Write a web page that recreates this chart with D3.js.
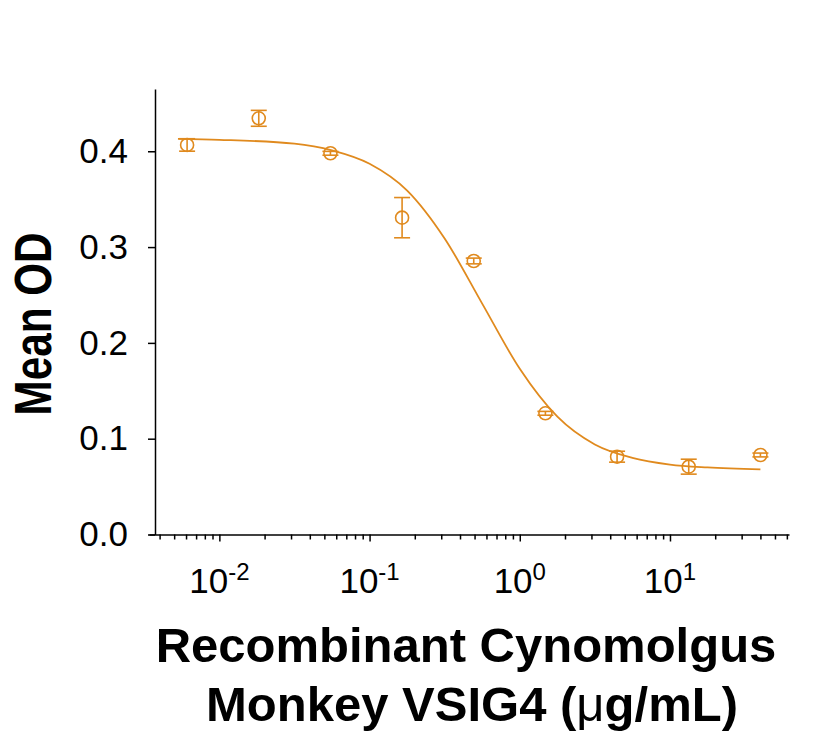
<!DOCTYPE html>
<html>
<head>
<meta charset="utf-8">
<script src="https://cdn.jsdelivr.net/npm/d3@7"></script>
<style>
  body { margin: 0; background: #fff; }
  svg text { font-family: Arial, "Liberation Sans", sans-serif; }
</style>
</head>
<body>
<svg width="831" height="735"></svg>
<script>
// measured points (ug/mL vs mean OD)
var conc   = [40, 13.33, 4.444, 1.481, 0.4938, 0.1646, 0.05487, 0.01829, 0.006097];
var meanOD = [0.0830, 0.0708, 0.0812, 0.1265, 0.2855, 0.3307, 0.3979, 0.4344, 0.4066];
var sem    = [0.002, 0.0078, 0.0057, 0.002, 0.003, 0.021, 0.002, 0.0083, 0.0065];

// fitted curve
var fitConc = [0.0053, 0.01, 0.0316, 0.0562, 0.1, 0.178, 0.316, 0.562, 1, 1.78, 3.16, 5.62, 10, 17.8, 40];
var fitOD   = [0.413, 0.412, 0.408, 0.401, 0.387, 0.359, 0.309, 0.241, 0.173, 0.123, 0.094, 0.080, 0.073, 0.070, 0.068];

// axes
var yTicks = [0, 0.1, 0.2, 0.3, 0.4];
var xMajor = [0.01, 0.1, 1, 10];
var xMajorExp = ["-2", "-1", "0", "1"];
var xMinor = [0.004, 0.005, 0.006, 0.007, 0.008, 0.009,
              0.02, 0.03, 0.04, 0.05, 0.06, 0.07, 0.08, 0.09,
              0.2, 0.3, 0.4, 0.5, 0.6, 0.7, 0.8, 0.9,
              2, 3, 4, 5, 6, 7, 8, 9,
              20, 30, 40, 50, 60];

var color = "#E08A1E";
var svg = d3.select("svg");

var x = d3.scaleLog().domain([0.0034, 62]).range([149, 789]);
var y = d3.scaleLinear().domain([0, 0.465]).range([534.5, 89]);

//////////// AXES ////////////
var yAxis = svg.append("g")
  .attr("transform", "translate(155,0)")
  .call(d3.axisLeft(y)
    .tickValues(yTicks)
    .tickFormat(d3.format(".1f"))
    .tickSize(7)
    .tickPadding(20)
    .tickSizeOuter(0));
yAxis.attr("font-family", null).attr("font-size", null);
yAxis.selectAll("text").style("font-size", "35px").attr("fill", "#000");
yAxis.selectAll("line, path").attr("stroke", "#000").attr("stroke-width", 1.5);

var xMinorAxis = svg.append("g")
  .attr("transform", "translate(0,534.5)")
  .call(d3.axisBottom(x)
    .tickValues(xMinor)
    .tickFormat("")
    .tickSize(5)
    .tickSizeOuter(0));
xMinorAxis.selectAll("line, path").attr("stroke", "#000").attr("stroke-width", 1.5);

var xMajorAxis = svg.append("g")
  .attr("transform", "translate(0,534.5)")
  .call(d3.axisBottom(x)
    .tickValues(xMajor)
    .tickFormat("")
    .tickSize(7)
    .tickSizeOuter(0));
xMajorAxis.select(".domain").remove();
xMajorAxis.selectAll("line").attr("stroke", "#000").attr("stroke-width", 1.5);

// power-of-ten labels
xMajor.forEach(function(v, i) {
  var t = svg.append("text")
    .attr("x", x(v))
    .attr("y", 593)
    .attr("text-anchor", "middle")
    .style("font-size", "35px");
  t.append("tspan").text("10");
  t.append("tspan").attr("dy", -13).style("font-size", "24px").text(xMajorExp[i]);
});

// axis titles
svg.append("text")
  .attr("transform", "translate(51,324) rotate(-90)")
  .attr("text-anchor", "middle")
  .attr("textLength", 183)
  .attr("lengthAdjust", "spacingAndGlyphs")
  .style("font-size", "51px")
  .style("font-weight", "bold")
  .text("Mean OD");

svg.append("text")
  .attr("x", 466).attr("y", 662)
  .attr("text-anchor", "middle")
  .style("font-size", "49px")
  .style("font-weight", "bold")
  .text("Recombinant Cynomolgus");

var l2 = svg.append("text")
  .attr("x", 472).attr("y", 721)
  .attr("text-anchor", "middle")
  .style("font-size", "49px")
  .style("font-weight", "bold");
l2.append("tspan").text("Monkey VSIG4 (");
l2.append("tspan").style("font-weight", "normal").text("\u03bc");
l2.append("tspan").text("g/mL)");

//////////// DATA ////////////
var fit = fitConc.map(function(c, i) { return [c, fitOD[i]]; });
svg.append("path")
  .datum(fit)
  .attr("fill", "none")
  .attr("stroke", color)
  .attr("stroke-width", 1.8)
  .attr("d", d3.line()
    .x(function(d) { return x(d[0]); })
    .y(function(d) { return y(d[1]); })
    .curve(d3.curveMonotoneX));

var pts = conc.map(function(c, i) { return { c: c, m: meanOD[i], s: sem[i] }; });
var eb = svg.append("g").attr("stroke", color).attr("stroke-width", 1.6);
pts.forEach(function(d) {
  var cx = x(d.c);
  eb.append("line").attr("x1", cx).attr("x2", cx).attr("y1", y(d.m - d.s)).attr("y2", y(d.m + d.s));
  eb.append("line").attr("x1", cx - 8).attr("x2", cx + 8).attr("y1", y(d.m - d.s)).attr("y2", y(d.m - d.s));
  eb.append("line").attr("x1", cx - 8).attr("x2", cx + 8).attr("y1", y(d.m + d.s)).attr("y2", y(d.m + d.s));
});

svg.append("g")
  .selectAll("circle")
  .data(pts)
  .enter().append("circle")
  .attr("cx", function(d) { return x(d.c); })
  .attr("cy", function(d) { return y(d.m); })
  .attr("r", 6.5)
  .attr("fill", "none")
  .attr("stroke", color)
  .attr("stroke-width", 1.6);
</script>
</body>
</html>
